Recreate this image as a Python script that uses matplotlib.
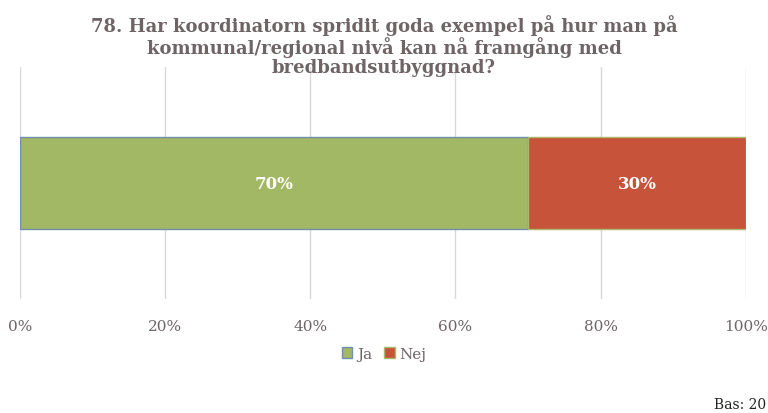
import matplotlib.pyplot as plt
from matplotlib.patches import Patch

# Data
categories = ["Ja", "Nej"]
values = [70, 30]
colors = ["#a3b864", "#c6533a"]
edges = ["#6f8fae", "#a9b86a"]
ticks = [0, 20, 40, 60, 80, 100]
title = ("78. Har koordinatorn spridit goda exempel på hur man på\n"
         "kommunal/regional nivå kan nå framgång med\n"
         "bredbandsutbyggnad?")

text_color = "#6e6466"
plt.rcParams['font.family'] = ['DejaVu Serif']

fig = plt.figure(figsize=(7.68, 4.14), dpi=100)
ax = fig.add_axes([0.026, 0.275, 0.945, 0.561])

left = 0
for cat, val, col, ec in zip(categories, values, colors, edges):
    ax.barh(0, val, left=left, height=0.4, color=col, edgecolor=ec,
            linewidth=1, zorder=3)
    ax.text(left + val / 2, 0, f"{val}%", ha="center", va="center",
            color="white", fontsize=12, fontweight="bold", zorder=4)
    left += val

ax.set_xlim(0, 100)
ax.set_ylim(-0.5, 0.5)
ax.set_xticks(ticks)
ax.set_xticklabels([f"{t}%" for t in ticks], color=text_color, fontsize=11)
ax.tick_params(axis="x", length=0, pad=14)
ax.set_yticks([])
ax.grid(axis="x", color="#d9d9d9", linewidth=1, zorder=0)
for s in ax.spines.values():
    s.set_visible(False)

fig.text(0.5, 0.963, title, ha="center", va="top", fontsize=13,
         fontweight="bold", color=text_color, linespacing=1.05)

handles = [Patch(facecolor=c, edgecolor=e, label=l)
           for c, e, l in zip(colors, edges, categories)]
fig.legend(handles=handles, loc="center", bbox_to_anchor=(0.5, 0.143),
           ncol=2, frameon=False, fontsize=11, handlelength=0.7,
           handleheight=0.7, handletextpad=0.3, columnspacing=0.8,
           labelcolor=text_color)

fig.text(0.998, 0.005, "Bas: 20", ha="right", va="bottom", fontsize=10,
         color="#222222")

fig.savefig("out.png", dpi=100)
